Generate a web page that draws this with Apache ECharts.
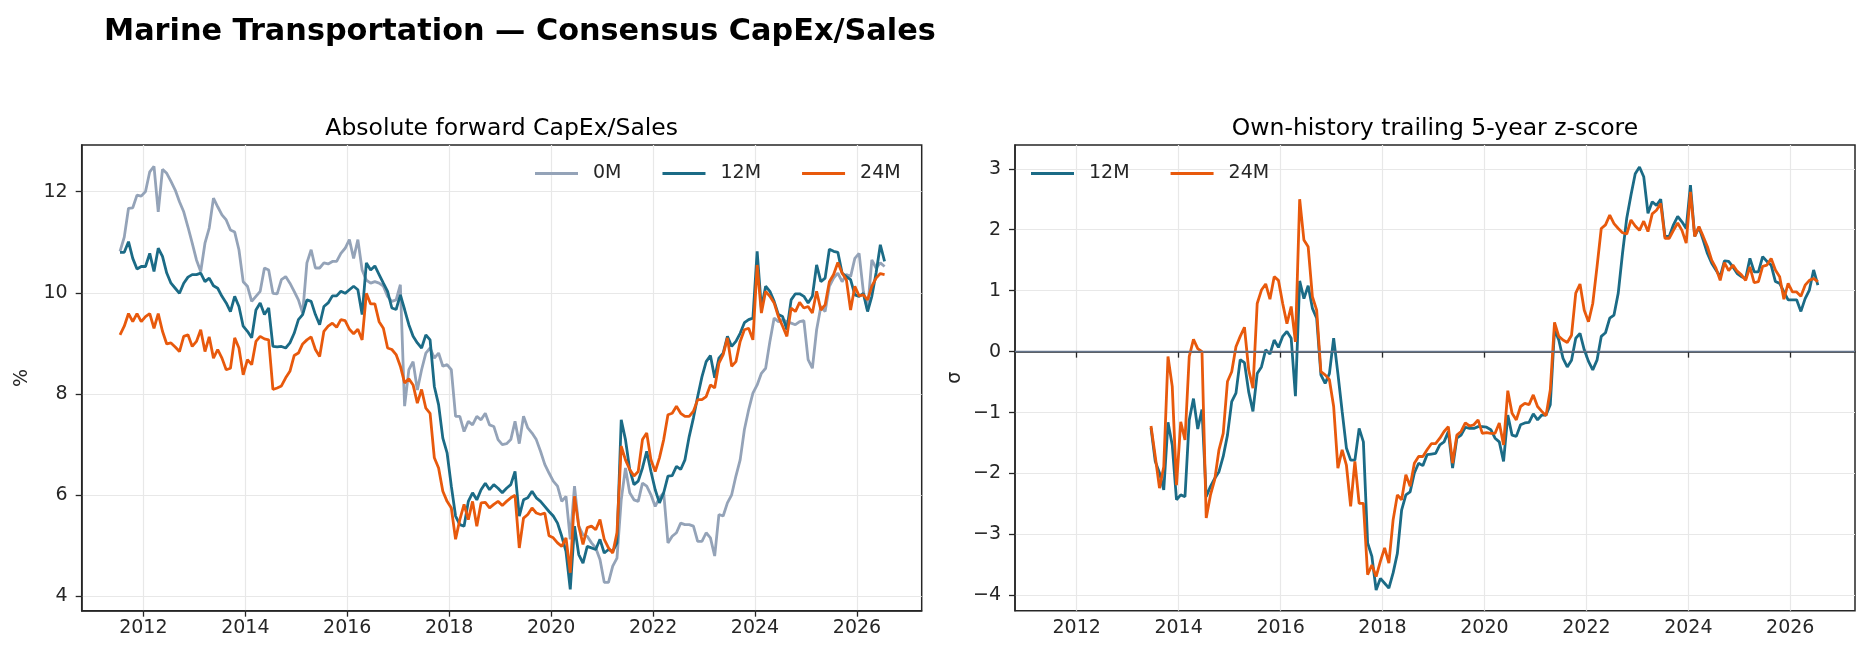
<!DOCTYPE html>
<html>
<head>
<meta charset="utf-8">
<script src="https://cdn.jsdelivr.net/npm/echarts@6/dist/echarts.min.js"></script>
<style>
  html, body { margin: 0; padding: 0; background: #fff; }
  #chart { width: 1869px; height: 659px; }
</style>
</head>
<body>
<div id="chart"></div>
<script>
// monthly observations, Jul 2011 .. Jul 2026
var dates = [];
for (var i = 0; i < 181; i++) {
  var mm = 6 + i;
  var y = 2011 + Math.floor(mm / 12), mo = (mm % 12) + 1;
  dates.push(y + '-' + (mo < 10 ? '0' + mo : mo));
}

// absolute forward CapEx/Sales, %
var capex0M = [
  10.82, 11.1, 11.67, 11.68, 11.93, 11.91, 12.0, 12.39, 12.5, 11.6,
  12.44, 12.36, 12.2, 12.03, 11.8, 11.6, 11.3, 10.98, 10.65, 10.42,
  10.98, 11.28, 11.87, 11.7, 11.54, 11.44, 11.24, 11.2, 10.85, 10.22,
  10.13, 9.83, 9.93, 10.03, 10.49, 10.45, 9.99, 9.98, 10.26, 10.32,
  10.19, 10.03, 9.86, 9.6, 10.59, 10.85, 10.49, 10.49, 10.59, 10.57,
  10.62, 10.62, 10.78, 10.88, 11.05, 10.68, 11.05, 10.45, 10.25, 10.19,
  10.22, 10.19, 10.13, 9.93, 9.83, 9.86, 10.16, 7.76, 8.48, 8.64,
  8.08, 8.48, 8.81, 8.91, 8.71, 8.81, 8.55, 8.58, 8.48, 7.56,
  7.56, 7.26, 7.46, 7.39, 7.56, 7.49, 7.62, 7.39, 7.36, 7.1,
  7.0, 7.02, 7.1, 7.46, 7.02, 7.56, 7.33, 7.23, 7.1, 6.87,
  6.61, 6.44, 6.28, 6.18, 5.88, 5.98, 5.13, 6.18, 5.39, 5.22,
  5.19, 5.06, 4.96, 4.73, 4.28, 4.28, 4.6, 4.76, 5.91, 6.54,
  6.05, 5.91, 5.88, 6.24, 6.18, 6.01, 5.78, 5.95, 6.05, 5.06,
  5.19, 5.26, 5.45, 5.42, 5.42, 5.39, 5.09, 5.09, 5.26, 5.16,
  4.8, 5.62, 5.59, 5.85, 6.01, 6.38, 6.7, 7.3, 7.69, 8.02,
  8.18, 8.41, 8.51, 9.04, 9.5, 9.43, 9.47, 9.43, 9.4, 9.37,
  9.43, 9.45, 8.68, 8.51, 9.27, 9.73, 9.63, 10.13, 10.29, 10.39,
  10.22, 10.36, 10.32, 10.68, 10.78, 10.03, 9.66, 10.65, 10.49, 10.59,
  10.52
];
var capex12M = [
  10.8, 10.8, 11.01, 10.68, 10.47, 10.52, 10.52, 10.78, 10.42, 10.88,
  10.72, 10.39, 10.19, 10.09, 9.99, 10.19, 10.31, 10.36, 10.36, 10.39,
  10.22, 10.29, 10.14, 10.09, 9.93, 9.8, 9.63, 9.93, 9.73, 9.34,
  9.24, 9.11, 9.66, 9.8, 9.57, 9.7, 8.94, 8.93, 8.94, 8.91,
  9.01, 9.2, 9.47, 9.57, 9.86, 9.83, 9.57, 9.37, 9.73, 9.8,
  9.94, 9.94, 10.03, 9.99, 10.06, 10.13, 10.06, 9.57, 10.59, 10.45,
  10.53, 10.36, 10.19, 10.03, 9.7, 9.67, 9.96, 9.67, 9.37, 9.14,
  9.01, 8.91, 9.17, 9.07, 8.15, 7.79, 7.13, 6.84, 6.18, 5.59,
  5.42, 5.39, 5.88, 6.05, 5.91, 6.11, 6.24, 6.11, 6.21, 6.14,
  6.05, 6.14, 6.21, 6.47, 5.59, 5.91, 5.95, 6.08, 5.95, 5.88,
  5.78, 5.68, 5.59, 5.45, 5.19, 4.89, 4.14, 5.39, 4.83, 4.66,
  4.99, 4.96, 4.93, 5.13, 4.86, 4.93, 4.89, 5.06, 7.49, 7.1,
  6.51, 6.21, 6.28, 6.54, 6.87, 6.47, 6.11, 5.85, 6.05, 6.38,
  6.39, 6.57, 6.51, 6.7, 7.16, 7.53, 7.95, 8.34, 8.64, 8.76,
  8.32, 8.71, 8.81, 9.14, 8.94, 9.04, 9.2, 9.41, 9.47, 9.5,
  10.82, 9.7, 10.13, 10.03, 9.83, 9.57, 9.53, 9.27, 9.86, 9.98,
  9.98, 9.93, 9.8, 9.93, 10.55, 10.22, 10.29, 10.86, 10.82, 10.8,
  10.39, 10.32, 10.26, 9.96, 9.93, 9.99, 9.63, 9.93, 10.39, 10.95,
  10.62
];
var capex24M = [
  9.17, 9.34, 9.59, 9.43, 9.59, 9.43, 9.53, 9.59, 9.3, 9.59,
  9.24, 8.99, 9.01, 8.93, 8.84, 9.14, 9.17, 8.94, 9.04, 9.27,
  8.84, 9.13, 8.71, 8.88, 8.71, 8.48, 8.51, 9.11, 8.91, 8.38,
  8.68, 8.58, 9.04, 9.14, 9.09, 9.07, 8.09, 8.12, 8.16, 8.32,
  8.45, 8.76, 8.81, 8.99, 9.07, 9.13, 8.88, 8.74, 9.24, 9.34,
  9.4, 9.32, 9.47, 9.45, 9.28, 9.19, 9.28, 9.07, 9.99, 9.78,
  9.78, 9.43, 9.3, 8.91, 8.88, 8.78, 8.55, 8.22, 8.3, 8.18,
  7.82, 8.09, 7.72, 7.62, 6.74, 6.54, 6.08, 5.88, 5.75, 5.13,
  5.52, 5.82, 5.52, 5.88, 5.39, 5.85, 5.86, 5.75, 5.82, 5.88,
  5.8, 5.88, 5.95, 6.0, 4.96, 5.55, 5.62, 5.75, 5.65, 5.62,
  5.65, 5.2, 5.16, 5.06, 4.99, 5.16, 4.47, 5.98, 5.39, 5.03,
  5.36, 5.39, 5.32, 5.52, 5.13, 4.96, 4.86, 5.26, 6.97, 6.7,
  6.51, 6.38, 6.47, 7.1, 7.23, 6.7, 6.47, 6.74, 7.1, 7.59,
  7.62, 7.76, 7.62, 7.56, 7.56, 7.66, 7.89, 7.89, 7.95, 8.18,
  8.12, 8.61, 8.78, 9.11, 8.55, 8.64, 9.04, 9.27, 9.3, 9.07,
  10.55, 9.6, 10.03, 9.93, 9.8, 9.53, 9.34, 9.14, 9.7, 9.63,
  9.81, 9.7, 9.73, 9.6, 10.03, 9.66, 9.76, 10.22, 10.36, 10.6,
  10.39, 10.26, 9.66, 10.13, 9.94, 9.96, 9.86, 10.13, 10.29, 10.38,
  10.36
];

// own-history trailing 5-year z-score (starts Jun 2013)
var z12M = [
  null, null, null, null, null, null, null, null, null, null,
  null, null, null, null, null, null, null, null, null, null,
  null, null, null, -1.25, -1.8, -1.99, -2.27, -1.16, -1.53, -2.43,
  -2.35, -2.38, -1.12, -0.77, -1.27, -0.95, -2.38, -2.21, -2.08, -1.97,
  -1.72, -1.37, -0.82, -0.68, -0.13, -0.18, -0.66, -0.98, -0.36, -0.25,
  0.03, -0.04, 0.19, 0.07, 0.25, 0.33, 0.22, -0.73, 1.16, 0.87,
  1.08, 0.71, 0.55, -0.38, -0.52, -0.36, 0.22, -0.36, -0.98, -1.58,
  -1.78, -1.78, -1.26, -1.48, -3.14, -3.36, -3.91, -3.72, -3.8, -3.88,
  -3.63, -3.31, -2.6, -2.35, -2.3, -1.99, -1.83, -1.87, -1.69, -1.68,
  -1.67, -1.53, -1.48, -1.31, -1.91, -1.42, -1.37, -1.24, -1.26, -1.26,
  -1.23, -1.23, -1.24, -1.28, -1.42, -1.48, -1.8, -1.04, -1.37, -1.39,
  -1.2, -1.17, -1.16, -1.02, -1.12, -1.04, -1.04, -0.87, 0.36, 0.19,
  -0.11, -0.25, -0.14, 0.22, 0.3, 0.03, -0.16, -0.3, -0.14, 0.25,
  0.31, 0.55, 0.6, 0.96, 1.61, 2.19, 2.57, 2.92, 3.03, 2.87,
  2.27, 2.46, 2.4, 2.5, 1.89, 1.89, 2.08, 2.22, 2.13, 2.02,
  2.73, 1.89, 2.04, 1.83, 1.61, 1.45, 1.34, 1.23, 1.49, 1.48,
  1.39, 1.28, 1.23, 1.2, 1.53, 1.31, 1.31, 1.56, 1.48, 1.42,
  1.15, 1.12, 0.98, 0.85, 0.85, 0.85, 0.66, 0.87, 1.01, 1.34,
  1.09
];
var z24M = [
  null, null, null, null, null, null, null, null, null, null,
  null, null, null, null, null, null, null, null, null, null,
  null, null, null, -1.22, -1.72, -2.24, -1.89, -0.08, -0.57, -2.19,
  -1.15, -1.45, -0.08, 0.2, 0.05, 0.0, -2.73, -2.35, -2.1, -1.61,
  -1.34, -0.49, -0.33, 0.08, 0.25, 0.4, -0.3, -0.6, 0.79, 1.01,
  1.11, 0.86, 1.23, 1.17, 0.79, 0.46, 0.74, 0.16, 2.5, 1.83,
  1.72, 0.9, 0.68, -0.33, -0.38, -0.46, -0.9, -1.91, -1.61, -1.86,
  -2.54, -1.8, -2.49, -2.49, -3.66, -3.5, -3.69, -3.44, -3.22, -3.47,
  -2.76, -2.35, -2.43, -2.02, -2.21, -1.83, -1.72, -1.72, -1.61, -1.51,
  -1.51, -1.42, -1.31, -1.23, -1.83, -1.37, -1.31, -1.17, -1.22, -1.2,
  -1.12, -1.34, -1.33, -1.34, -1.34, -1.17, -1.53, -0.64, -1.01, -1.12,
  -0.9, -0.85, -0.87, -0.71, -0.9, -0.98, -1.05, -0.63, 0.48, 0.25,
  0.19, 0.15, 0.27, 0.96, 1.11, 0.68, 0.49, 0.79, 1.39, 2.02,
  2.08, 2.24, 2.1, 2.02, 1.95, 1.93, 2.16, 2.06, 1.99, 2.14,
  1.97, 2.26, 2.32, 2.43, 1.86, 1.86, 1.99, 2.11, 1.99, 1.78,
  2.62, 1.89, 2.05, 1.89, 1.72, 1.5, 1.37, 1.17, 1.46, 1.33,
  1.42, 1.32, 1.26, 1.17, 1.39, 1.13, 1.15, 1.4, 1.42, 1.53,
  1.34, 1.23, 0.86, 1.12, 0.98, 0.98, 0.91, 1.09, 1.17, 1.2,
  1.15
];

var yearTicks = [2012, 2014, 2016, 2018, 2020, 2022, 2024, 2026];
var pctTicks = [4, 6, 8, 10, 12];
var zTicks = [-4, -3, -2, -1, 0, 1, 2, 3];

var C0 = '#94a3b8', C12 = '#1b6b86', C24 = '#e8590c';
var FONT = 'DejaVu Sans';
var INK = '#262626';

function toYear(s) {
  var p = s.split('-');
  return +p[0] + (+p[1] - 0.5) / 12;
}
function pairs(vals) {
  return vals.map(function (v, i) { return [toYear(dates[i]), v]; });
}

function xAxis(gi) {
  return {
    type: 'value', gridIndex: gi, min: 2010.79, max: 2027.27,
    axisLine: { show: true, lineStyle: { color: INK, width: 1.5 } },
    axisTick: { show: true, length: 6, customValues: yearTicks, lineStyle: { color: INK, width: 1.3 } },
    axisLabel: { customValues: yearTicks, margin: 8, color: INK, fontSize: 19, fontFamily: FONT,
                 formatter: function (v) { return String(v); } },
    splitLine: { show: true, lineStyle: { color: '#e8e8e8', width: 1.2 } }
  };
}
function yAxis(gi, lo, hi, ticks, name, gap) {
  return {
    type: 'value', gridIndex: gi, min: lo, max: hi,
    name: name, nameLocation: 'middle', nameRotate: 90, nameGap: gap,
    nameTextStyle: { color: INK, fontSize: 19, fontFamily: FONT },
    axisLine: { show: true, lineStyle: { color: INK, width: 1.5 } },
    axisTick: { show: true, length: 6, customValues: ticks, lineStyle: { color: INK, width: 1.3 } },
    axisLabel: { customValues: ticks, margin: 14, color: INK, fontSize: 19, fontFamily: FONT,
                 formatter: function (v) { return String(v).replace('-', '\u2212'); } },
    splitLine: { show: true, lineStyle: { color: '#e8e8e8', width: 1.2 } }
  };
}
function line(name, color, vals, gi) {
  return {
    name: name, type: 'line', xAxisIndex: gi, yAxisIndex: gi,
    data: pairs(vals), showSymbol: false, symbol: 'none',
    color: color, lineStyle: { color: color, width: 2.8 },
    emphasis: { disabled: true }
  };
}

var chart = echarts.init(document.getElementById('chart'));

var zSeries = line('12M', C12, z12M, 1);
zSeries.markLine = {
  silent: true, symbol: 'none', label: { show: false },
  lineStyle: { color: '#64748b', width: 1.4, type: 'solid' },
  data: [{ yAxis: 0 }]
};

chart.setOption({
  animation: false,
  backgroundColor: '#fff',
  textStyle: { fontFamily: FONT },
  title: [
    { text: 'Marine Transportation \u2014 Consensus CapEx/Sales', left: 104, top: 17, padding: 0,
      textStyle: { fontSize: 30.3, fontWeight: 'bold', color: '#000', fontFamily: FONT } },
    { text: 'Absolute forward CapEx/Sales', left: 501.7, top: 117, padding: 0, textAlign: 'center',
      textStyle: { fontSize: 23.5, fontWeight: 'normal', color: '#000', fontFamily: FONT } },
    { text: 'Own-history trailing 5-year z-score', left: 1435, top: 117, padding: 0, textAlign: 'center',
      textStyle: { fontSize: 23.5, fontWeight: 'normal', color: '#000', fontFamily: FONT } }
  ],
  legend: [
    { data: ['0M', '12M', '24M'], left: 535, top: 164, padding: 0, itemGap: 41,
      itemWidth: 43, itemHeight: 3, icon: 'rect',
      textStyle: { fontSize: 19, color: INK, fontFamily: FONT, padding: [0, 0, 0, 10] } },
    { data: ['12M', '24M'], left: 1031, top: 164, padding: 0, itemGap: 41,
      itemWidth: 43, itemHeight: 3, icon: 'rect',
      textStyle: { fontSize: 19, color: INK, fontFamily: FONT, padding: [0, 0, 0, 10] } }
  ],
  grid: [
    { left: 81.7, top: 145, width: 840, height: 465.7, show: true, borderColor: INK, borderWidth: 1.5,
      backgroundColor: 'transparent' },
    { left: 1015, top: 145, width: 840, height: 465.7, show: true, borderColor: INK, borderWidth: 1.5,
      backgroundColor: 'transparent' }
  ],
  xAxis: [xAxis(0), xAxis(1)],
  yAxis: [
    yAxis(0, 3.72, 12.92, pctTicks, '%', 50),
    yAxis(1, -4.25, 3.39, zTicks, '\u03c3', 50)
  ],
  series: [
    line('0M', C0, capex0M, 0),
    line('12M', C12, capex12M, 0),
    line('24M', C24, capex24M, 0),
    zSeries,
    line('24M', C24, z24M, 1)
  ]
});
</script>
</body>
</html>
